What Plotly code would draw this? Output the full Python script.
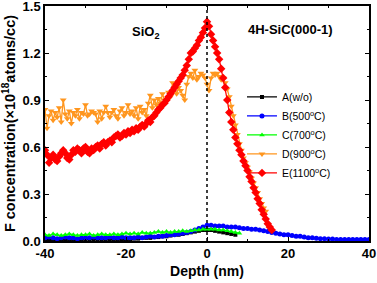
import numpy as np
import plotly.graph_objects as go

# ---- data ----
E_x0, E_x1 = -40, 16
E_vals = [0.58,0.55,0.50,0.53,0.55,0.52,0.51,0.54,0.56,0.58,0.56,0.53,0.52,0.55,0.58,0.57,0.59,0.58,0.56,0.59,
          0.60,0.57,0.56,0.59,0.58,0.60,0.61,0.59,0.62,0.63,0.61,0.63,0.64,0.63,0.66,0.67,0.68,0.66,0.67,0.69,
          0.68,0.70,0.69,0.71,0.70,0.72,0.71,0.73,0.74,0.73,0.75,0.77,0.76,0.79,0.80,0.82,0.84,0.85,0.87,0.88,
          0.90,0.92,0.94,0.96,0.98,1.00,1.02,1.04,1.06,1.09,1.12,1.16,1.20,1.21,1.23,1.25,1.28,1.30,1.33,1.36,
          1.40,1.37,1.32,1.28,1.24,1.20,1.16,1.10,1.04,0.98,0.90,0.82,0.76,0.71,0.66,0.62,0.58,0.55,0.51,0.48,
          0.45,0.41,0.38,0.34,0.31,0.27,0.24,0.20,0.17,0.14,0.11,0.09,0.07]

D_x0, D_x1 = -40, 14.5
D_vals = [0.84,0.72,0.80,0.83,0.77,0.82,0.79,0.85,0.76,0.90,0.81,0.78,0.83,0.75,0.82,0.80,0.84,0.78,0.82,0.81,
          0.87,0.80,0.81,0.83,0.82,0.81,0.76,0.83,0.78,0.82,0.86,0.82,0.79,0.82,0.84,0.80,0.78,0.83,0.85,0.80,
          0.82,0.87,0.81,0.83,0.80,0.85,0.78,0.86,0.82,0.84,0.80,0.88,0.93,0.85,0.90,0.87,0.91,0.88,0.94,0.90,
          0.89,0.95,0.92,1.01,0.97,0.94,0.98,0.96,0.93,0.90,1.00,1.05,1.07,1.04,1.09,1.03,1.05,1.07,1.06,1.04,
          1.00,0.96,1.04,1.07,1.06,1.07,1.05,1.03,1.04,1.01,0.97,0.92,0.86,0.80,0.74,0.68,0.62,0.58,0.53,0.50,
          0.47,0.44,0.40,0.37,0.34,0.31,0.27,0.24,0.21,0.19]

B_x0, B_x1 = -40, 40
B_vals = [0.02,0.025,0.02,0.015,0.02,0.025,0.02,0.02,0.015,0.02,0.02,
          0.02,0.025,0.02,0.02,0.02,0.025,0.02,0.02,0.025,0.02,
          0.02,0.02,0.025,0.02,0.025,0.03,0.025,0.03,0.03,0.035,
          0.04,0.04,0.045,0.05,0.055,0.06,0.07,0.08,0.09,
          0.10,0.10,0.095,0.095,0.095,0.09,0.09,0.09,0.085,0.08,
          0.08,0.075,0.075,0.07,0.065,0.06,0.055,0.05,0.045,0.04,
          0.04,0.035,0.03,0.03,0.025,0.02,0.02,0.018,0.015,0.015,
          0.012,0.012,0.01,0.01,0.01,0.01,0.01,0.01,0.01,0.01,0.01]

C_x0, C_x1 = -40, 8
C_vals = [0.04,0.035,0.045,0.04,0.035,0.04,0.045,0.04,0.035,0.04,
          0.04,0.045,0.035,0.04,0.045,0.04,0.04,0.045,0.04,0.045,
          0.05,0.045,0.05,0.045,0.055,0.05,0.05,0.055,0.06,0.055,
          0.06,0.055,0.06,0.06,0.065,0.06,0.065,0.07,0.07,0.075,
          0.075,0.075,0.075,0.07,0.07,0.065,0.06,0.055,0.05]

A_x0, A_x1 = -40, 7
A_vals = [0.005,0.008,0.005,0.007,0.005,0.008,0.006,0.005,0.008,0.006,
          0.01,0.008,0.01,0.01,0.009,0.01,0.01,0.012,0.01,0.01,
          0.01,0.01,0.015,0.015,0.02,0.02,0.02,0.025,0.025,0.03,
          0.03,0.035,0.04,0.04,0.045,0.05,0.055,0.06,0.065,0.07,
          0.07,0.07,0.065,0.06,0.055,0.05,0.045,0.04]

names = ["A(w/o)", "B(500<sup>o</sup>C)", "C(700<sup>o</sup>C)", "D(900<sup>o</sup>C)", "E(1100<sup>o</sup>C)"]
x_ticks = [-40, -20, 0, 20, 40]
y_ticks = [0.0, 0.3, 0.6, 0.9, 1.2, 1.5]
y_ticklabels = ["0.0", "0.3", "0.6", "0.9", "1.2", "1.5"]

series = [
    (A_x0, A_x1, A_vals, "#000000", "square", 4),
    (B_x0, B_x1, B_vals, "#0000FF", "circle", 5),
    (C_x0, C_x1, C_vals, "#00FF00", "triangle-up", 5),
    (D_x0, D_x1, D_vals, "#FF961E", "triangle-down", 6),
    (E_x0, E_x1, E_vals, "#FF0000", "diamond", 6.5),
]

FONT = "Liberation Sans"

fig = go.Figure()
for name, (x0, x1, vals, col, sym, ms) in zip(names, series):
    xs = np.linspace(x0, x1, len(vals))
    fig.add_trace(go.Scatter(x=xs, y=vals, mode="lines+markers", name=name,
                             line=dict(color=col, width=1.3),
                             marker=dict(color=col, symbol=sym, size=ms, line=dict(width=0))))

fig.add_shape(type="line", x0=0, x1=0, y0=0, y1=1.5, xref="x", yref="y",
              line=dict(color="black", width=1.5, dash="3px,3px"))

fig.add_annotation(x=-15.3, y=1.33, text="SiO<sub>2</sub>", showarrow=False,
                   font=dict(size=13, color="black", family=FONT, weight="bold"))
fig.add_annotation(x=20.5, y=1.35, text="4H-SiC(000-1)", showarrow=False,
                   font=dict(size=13, color="black", family=FONT, weight="bold"))

axis_common = dict(showline=True, linecolor="black", linewidth=1.5, mirror="ticks",
                   ticks="inside", ticklen=4, tickwidth=1.2, tickcolor="black",
                   showgrid=False, zeroline=False, automargin=False,
                   ticklabeloverflow="allow",
                   tickfont=dict(size=13, color="black", family=FONT, weight="bold"))

fig.update_xaxes(range=[-40, 40], tickvals=x_ticks, ticktext=[str(v) for v in x_ticks],
                 minor=dict(ticks="inside", ticklen=2.5, tickcolor="black", dtick=10),
                 title=dict(text="Depth (nm)", font=dict(size=14, color="black", family=FONT, weight="bold"), standoff=6),
                 **axis_common)
fig.update_yaxes(range=[0, 1.5], tickvals=y_ticks, ticktext=y_ticklabels,
                 minor=dict(ticks="inside", ticklen=2.5, tickcolor="black", dtick=0.15),
                 title=dict(text="F concentration(×10<sup>18</sup>atoms/cc)",
                            font=dict(size=14.5, color="black", family=FONT, weight="bold"), standoff=3),
                 **axis_common)

fig.update_layout(width=377, height=283, margin=dict(l=45, r=8, t=6, b=42),
                  plot_bgcolor="white", paper_bgcolor="white",
                  showlegend=True,
                  legend=dict(x=0.608, y=0.675, xanchor="left", yanchor="top",
                              bgcolor="rgba(0,0,0,0)", font=dict(size=10.5, color="black", family=FONT),
                              tracegroupgap=0, itemwidth=30))

fig.write_html("out.html", config={"displayModeBar": False},
               post_script="document.body.style.margin='0';document.body.style.padding='0';")
